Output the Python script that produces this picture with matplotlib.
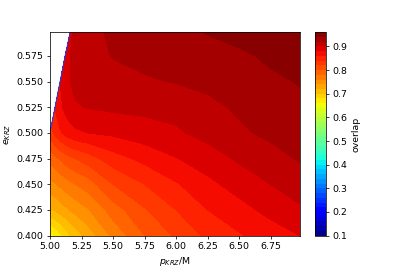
import numpy as np
import matplotlib.pyplot as plt

nan = np.nan

# grid of the map
p_krz = [5.00, 5.04, 5.08, 5.12, 5.16, 5.20, 5.30, 5.50, 5.75, 6.00, 6.25, 6.50, 6.75, 6.98]
e_krz = [0.400, 0.425, 0.450, 0.475, 0.500, 0.525, 0.550, 0.575, 0.598]

# overlap values, one row per e_krz (nan = no data)
overlap = [
    [0.650, 0.662, 0.675, 0.688, 0.700, 0.709, 0.728, 0.765, 0.800, 0.823, 0.845, 0.858, 0.870, 0.880],
    [0.717, 0.722, 0.729, 0.735, 0.741, 0.746, 0.758, 0.790, 0.818, 0.840, 0.860, 0.873, 0.886, 0.897],
    [0.752, 0.758, 0.764, 0.770, 0.775, 0.780, 0.790, 0.820, 0.840, 0.858, 0.875, 0.888, 0.900, 0.910],
    [0.787, 0.795, 0.802, 0.809, 0.815, 0.820, 0.830, 0.851, 0.866, 0.879, 0.890, 0.903, 0.913, 0.922],
    [0.830, 0.845, 0.857, 0.866, 0.872, 0.876, 0.880, 0.884, 0.891, 0.897, 0.907, 0.917, 0.924, 0.931],
    [nan, 0.862, 0.875, 0.885, 0.893, 0.898, 0.901, 0.904, 0.905, 0.907, 0.915, 0.923, 0.930, 0.936],
    [nan, nan, 0.880, 0.892, 0.900, 0.905, 0.908, 0.912, 0.918, 0.921, 0.925, 0.931, 0.937, 0.941],
    [nan, nan, nan, 0.890, 0.900, 0.906, 0.912, 0.921, 0.925, 0.928, 0.932, 0.937, 0.943, 0.948],
    [nan, nan, nan, nan, 0.896, 0.905, 0.913, 0.924, 0.930, 0.935, 0.941, 0.946, 0.951, 0.955],
]

levels = np.arange(0.10, 0.961, 0.02)
cbar_ticks = [0.1, 0.2, 0.3, 0.4, 0.5, 0.6, 0.7, 0.8, 0.9]

z = np.array(overlap)

# edge of the no-data region: first valid point of each upper row
edge_rows = range(4, len(e_krz))
edge_p = [p_krz[int(np.argmax(~np.isnan(z[i])))] for i in edge_rows]
edge_e = [e_krz[i] for i in edge_rows]

fig = plt.figure(figsize=(403 / 67.2, 269 / 67.2), dpi=67.2)
ax = fig.add_axes([0.124, 0.124, 0.620, 0.756])
cs = ax.contourf(p_krz, e_krz, z, levels=levels, cmap="jet")
ax.plot(edge_p, edge_e, color="#1040ff", lw=1.0)
ax.set_xlim(p_krz[0], p_krz[-1])
ax.set_ylim(e_krz[0], e_krz[-1])
ax.set_xticks(np.arange(5.0, 6.8, 0.25))
ax.set_xlabel("$p_{KRZ}$/M")
ax.set_ylabel("$e_{KRZ}$")

cax = fig.add_axes([0.7816, 0.124, 0.0273, 0.756])
cb = fig.colorbar(cs, cax=cax, ticks=cbar_ticks)
cb.set_label("overlap")

fig.savefig("out.png", dpi=67.2)
